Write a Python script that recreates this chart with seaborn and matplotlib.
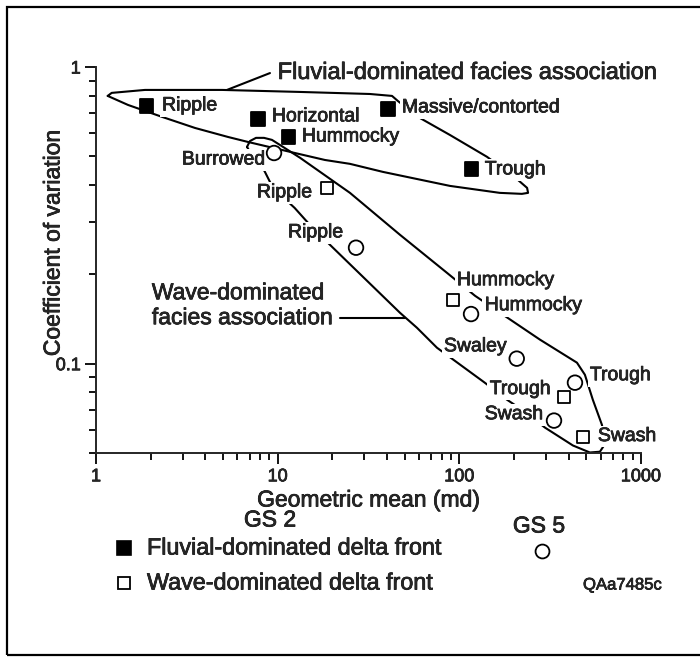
import matplotlib
matplotlib.use("Agg")
import matplotlib.pyplot as plt
import matplotlib.patheffects as pe
import numpy as np
import pandas as pd
import seaborn as sns
from matplotlib.lines import Line2D
from matplotlib.patches import Rectangle
from matplotlib.text import Text
from matplotlib.ticker import FuncFormatter, LogLocator, NullFormatter

# ---- GS 2: fluvial-dominated delta front (filled squares)
fluvial_facies = ["Ripple", "Horizontal", "Hummocky", "Massive/contorted", "Trough"]
fluvial_gm = [1.9, 7.8, 11.5, 40.5, 117]
fluvial_cv = [0.74, 0.668, 0.581, 0.722, 0.454]

# ---- GS 2: wave-dominated delta front (open squares)
wave_facies = ["Ripple", "Hummocky", "Trough", "Swash"]
wave_gm = [18.7, 92, 376, 479]
wave_cv = [0.392, 0.164, 0.0774, 0.0568]

# ---- GS 5 (open circles)
gs5_facies = ["Burrowed", "Ripple", "Hummocky", "Swaley", "Trough", "Swash"]
gs5_gm = [9.55, 27, 116, 207, 433, 332]
gs5_cv = [0.513, 0.246, 0.147, 0.104, 0.0863, 0.0643]

# ---- hand-drawn facies-association envelopes (geometric mean, CV)
fluvial_env_gm = [1.16, 1.22, 1.86, 4.94, 13.3, 32.2, 42.6, 45.9, 59.2, 88.8, 142,
                  178, 210, 236, 239, 221, 167, 88.8, 38.0, 25.0, 18.2, 12.45,
                  6.86, 5.33, 3.51, 2.31, 1.50, 1.16]
fluvial_env_cv = [0.799, 0.818, 0.837, 0.837, 0.824, 0.811, 0.799, 0.768, 0.679,
                  0.590, 0.498, 0.450, 0.4165, 0.3914, 0.3765, 0.3736, 0.3765,
                  0.3974, 0.443, 0.4716, 0.486, 0.513, 0.559, 0.581, 0.623,
                  0.679, 0.745, 0.799]

wave_env_gm = [6.78, 7.04, 7.60, 8.41, 9.30, 10.3, 13.3, 25.0, 47.1, 85.5, 122,
               174, 278, 444, 491, 543, 609, 641, 594, 523, 422, 296, 221, 183,
               138, 75.3, 58.4, 47.1, 19.4, 14.7, 12.4, 9.42, 8.51, 7.79, 7.04,
               6.78]
wave_env_cv = [0.538, 0.563, 0.577, 0.577, 0.568, 0.546, 0.494, 0.3765, 0.272,
               0.2024, 0.1694, 0.1462, 0.1205, 0.1008, 0.0918, 0.0756, 0.0623,
               0.0542, 0.0505, 0.0502, 0.0530, 0.0609, 0.0700, 0.0756, 0.0863,
               0.1132, 0.1322, 0.1485, 0.2516, 0.2983, 0.335, 0.3914, 0.443,
               0.486, 0.517, 0.538]

# leader lines from the association names to their envelopes
fluvial_leader_gm = [5.26, 9.07]
fluvial_leader_cv = [0.837, 0.954]
wave_leader_gm = [22.0, 50.2]
wave_leader_cv = [0.1429, 0.1429]

# label anchors (left edge, vertical centre) for each facies label
fluvial_label_pos = [(2.31, 0.739), (9.30, 0.679), (13.6, 0.581), (48.3, 0.728), (138, 0.450)]
wave_label_pos = [(7.69, 0.3765), (97.0, 0.1904), (147, 0.0818), (579, 0.0568)]
gs5_label_pos = [(2.97, 0.486), (11.4, 0.276), (138, 0.1568), (82.3, 0.114),
                 (523, 0.0911), (138, 0.0673)]

sns.set_style("ticks")
plt.rcParams["font.family"] = ["Liberation Sans", "DejaVu Sans"]
plt.rcParams["axes.linewidth"] = 1.4

df = pd.concat([
    pd.DataFrame({"gm": fluvial_gm, "cv": fluvial_cv, "group": "fluvial"}),
    pd.DataFrame({"gm": wave_gm, "cv": wave_cv, "group": "wave"}),
    pd.DataFrame({"gm": gs5_gm, "cv": gs5_cv, "group": "gs5"}),
], ignore_index=True)

W, H = 700, 657
fig = plt.figure(figsize=(W / 100, H / 100), dpi=100)
ax = fig.add_axes([96 / W, 1 - 453 / H, 545 / W, 386 / H])
ax.set_xscale("log")
ax.set_yscale("log")

line_kw = dict(color="black", lw=1.5, solid_joinstyle="round", zorder=1, clip_on=False)
ax.plot(fluvial_env_gm, fluvial_env_cv, **line_kw)
ax.plot(wave_env_gm, wave_env_cv, **line_kw)
ax.plot(fluvial_leader_gm, fluvial_leader_cv, **line_kw)
ax.plot(wave_leader_gm, wave_leader_cv, **line_kw)

sns.scatterplot(
    data=df, x="gm", y="cv", hue="group", style="group", size="group",
    markers={"fluvial": "s", "wave": "s", "gs5": "o"},
    palette={"fluvial": "black", "wave": "white", "gs5": "white"},
    sizes={"fluvial": 95, "wave": 75, "gs5": 110},
    edgecolor="black", linewidth=1.3, legend=False, ax=ax, zorder=4, clip_on=False,
)

box = dict(boxstyle="square,pad=0.12", fc="white", ec="none")
for names, positions in ((fluvial_facies, fluvial_label_pos),
                         (wave_facies, wave_label_pos),
                         (gs5_facies, gs5_label_pos)):
    for name, (lx, ly) in zip(names, positions):
        ax.text(lx, ly, name, fontsize=14, ha="left", va="center", bbox=box, zorder=3)

ax.text(10.0, 0.955, "Fluvial-dominated facies association", fontsize=17,
        ha="left", va="center", zorder=3)
ax.text(2.03, 0.1734, "Wave-dominated", fontsize=16.5, ha="left", va="center", zorder=3)
ax.text(2.03, 0.1429, "facies association", fontsize=16.5, ha="left", va="center", zorder=3)

ax.set_xlim(1, 1000)
ax.set_ylim(0.05, 1)
fmt = FuncFormatter(lambda v, p: f"{v:g}")
for axis in (ax.xaxis, ax.yaxis):
    axis.set_major_locator(LogLocator(base=10))
    axis.set_minor_locator(LogLocator(base=10, subs=np.arange(2, 10)))
    axis.set_major_formatter(fmt)
    axis.set_minor_formatter(NullFormatter())
ax.tick_params(which="major", length=8, width=1.3, labelsize=13, color="black", pad=3)
ax.tick_params(which="minor", length=5, width=1.3, color="black")
sns.despine(ax=ax)

ax.set_xlabel("Geometric mean (md)", fontsize=16.5)
ax.xaxis.label.set_va("center")
ax.xaxis.set_label_coords(0.5, (453 - 500) / 386)
ax.set_ylabel("Coefficient of variation", fontsize=16.5)
ax.yaxis.label.set_va("center")
ax.yaxis.set_label_coords((53 - 96) / 545, (453 - 243) / 386)


def fx(px):
    return px / W


def fy(py):
    return 1 - py / H


# key
fig.text(fx(270), fy(520), "GS 2", fontsize=16.5, ha="center", va="center")
fig.text(fx(539), fy(526), "GS 5", fontsize=16.5, ha="center", va="center")
fig.add_artist(Line2D([fx(124)], [fy(548)], marker="s", ms=10, mfc="black", mec="black",
                      mew=1.2, transform=fig.transFigure))
fig.add_artist(Line2D([fx(124)], [fy(583)], marker="s", ms=8.5, mfc="white", mec="black",
                      mew=1.3, transform=fig.transFigure))
fig.add_artist(Line2D([fx(542)], [fy(551)], marker="o", ms=10, mfc="white", mec="black",
                      mew=1.3, transform=fig.transFigure))
fig.text(fx(147), fy(548), "Fluvial-dominated delta front", fontsize=16.8, ha="left", va="center")
fig.text(fx(147), fy(583), "Wave-dominated delta front", fontsize=16.8, ha="left", va="center")
fig.text(fx(583), fy(585), "QAa7485c", fontsize=12, ha="left", va="center")

# page frame
fig.add_artist(Rectangle((fx(7), fy(655)), fx(720 - 7), (655 - 7) / H, fill=False,
                         lw=1.6, ec="black", transform=fig.transFigure, clip_on=False))

# slightly heavier lettering throughout
for t in fig.findobj(Text):
    t.set_path_effects([pe.withStroke(linewidth=0.5, foreground="black")])

fig.savefig("out.png", dpi=100, facecolor="white")
